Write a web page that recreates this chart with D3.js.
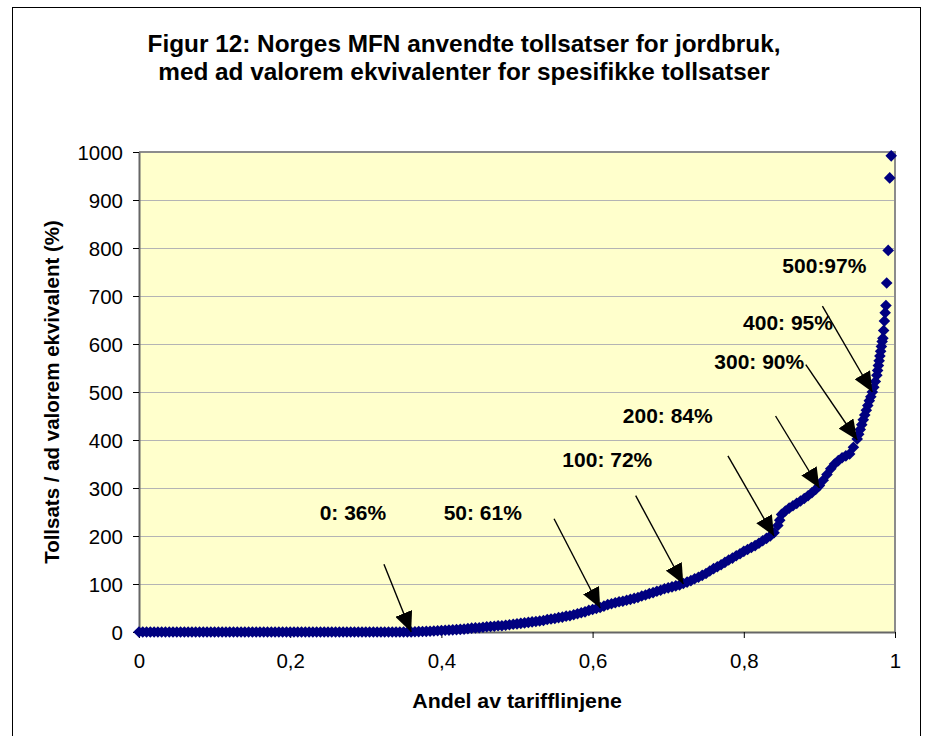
<!DOCTYPE html>
<html>
<head>
<meta charset="utf-8">
<script src="https://cdn.jsdelivr.net/npm/d3@7"></script>
<style>
  body { margin: 0; background: #fff; }
  text { font-family: Arial, "Liberation Sans", sans-serif; }
</style>
</head>
<body>
<svg id="chart"></svg>
<script>
// Andel av tarifflinjene (x) og tollsats / AVE i prosent (y), lest av figuren
const andel = [
  0, 0.005, 0.01, 0.015, 0.02, 0.025, 0.03, 0.035, 0.04, 0.045, 0.05, 0.055, 0.06, 0.065, 0.07, 0.075,
  0.08, 0.085, 0.09, 0.095, 0.1, 0.105, 0.11, 0.115, 0.12, 0.125, 0.13, 0.135, 0.14, 0.145, 0.15, 0.155,
  0.16, 0.165, 0.17, 0.175, 0.18, 0.185, 0.19, 0.195, 0.2, 0.205, 0.21, 0.215, 0.22, 0.225, 0.23, 0.235,
  0.24, 0.245, 0.25, 0.255, 0.26, 0.265, 0.27, 0.275, 0.28, 0.285, 0.29, 0.295, 0.3, 0.305, 0.31, 0.315,
  0.32, 0.325, 0.33, 0.335, 0.34, 0.345, 0.35, 0.355, 0.36,
  0.365, 0.37, 0.375, 0.38, 0.385, 0.39, 0.395, 0.4, 0.405, 0.41, 0.415, 0.42, 0.425, 0.43, 0.435, 0.44,
  0.445, 0.45, 0.455, 0.46, 0.465, 0.47, 0.475, 0.48, 0.485, 0.49, 0.495, 0.5, 0.505, 0.51, 0.515, 0.52,
  0.525, 0.53, 0.535, 0.54, 0.545, 0.55, 0.555, 0.56, 0.565, 0.57, 0.575, 0.58, 0.585, 0.59, 0.595, 0.6,
  0.605, 0.61, 0.615, 0.62, 0.625, 0.63, 0.635, 0.64, 0.645, 0.65, 0.655, 0.66, 0.665, 0.67, 0.675, 0.68,
  0.685, 0.69, 0.695, 0.7, 0.705, 0.71, 0.715, 0.72, 0.725, 0.73, 0.735, 0.74, 0.745, 0.75, 0.755, 0.76,
  0.765, 0.77, 0.775, 0.78, 0.785, 0.79, 0.795, 0.8, 0.805, 0.81, 0.815, 0.82, 0.825, 0.83, 0.835, 0.84,
  0.845, 0.8475, 0.85, 0.855, 0.86, 0.865, 0.87, 0.875, 0.88, 0.885, 0.89, 0.895, 0.9, 0.905, 0.91, 0.915,
  0.92, 0.925, 0.93, 0.935, 0.94, 0.945, 0.95,
  0.952, 0.954, 0.956, 0.958, 0.96, 0.962, 0.964, 0.966, 0.968, 0.97, 0.972, 0.974, 0.976, 0.977, 0.978,
  0.979, 0.98, 0.981, 0.982, 0.983, 0.984,
  0.985, 0.986, 0.987, 0.988, 0.989, 0.991, 0.993, 0.995
];
const tollsats = [
  0, 0, 0, 0, 0, 0, 0, 0, 0, 0, 0, 0, 0, 0, 0, 0,
  0, 0, 0, 0, 0, 0, 0, 0, 0, 0, 0, 0, 0, 0, 0, 0,
  0, 0, 0, 0, 0, 0, 0, 0, 0, 0, 0, 0, 0, 0, 0, 0,
  0, 0, 0, 0, 0, 0, 0, 0, 0, 0, 0, 0, 0, 0, 0, 0,
  0, 0, 0, 0, 0, 0, 0, 0, 0,
  0.5, 0.8, 1, 1.2, 1.5, 2, 2.5, 3, 3.5, 4, 4.5, 5, 5.5, 6, 7, 8,
  8.5, 9, 10, 11, 11.5, 12, 13, 13, 14, 15, 16, 17, 18, 19, 20, 21,
  22, 23, 24, 26, 27, 28, 30, 31, 33, 34, 36, 38, 40, 42, 45, 47,
  49, 51, 54, 57, 59, 61, 63, 64, 66, 68, 70, 72, 75, 77, 80, 82,
  85, 87, 90, 92, 94, 96, 98, 101, 104, 107, 111, 114, 118, 122, 127, 132,
  136, 140, 145, 150, 154, 159, 163, 168, 172, 176, 180, 185, 190, 195, 200, 207,
  222, 233, 245, 252, 258, 263, 268, 273, 278, 284, 290, 297, 305, 316, 328, 340,
  350, 357, 363, 367, 371, 385, 402,
  412, 422, 432, 442, 452, 462, 472, 482, 490, 500, 510, 522, 535, 545, 555,
  565, 575, 585, 595, 605, 612,
  628, 648, 665, 680, 727, 795, 946, 992
];

// Piler med tekst: spiss (andel, tollsats), startpunkt og tekstposisjon i dataverdier
const annLabels = ["0: 36%", "50: 61%", "100: 72%", "200: 84%", "300: 90%", "400: 95%", "500:97%"];
const annTipX   = [0.36, 0.61, 0.72, 0.84, 0.90, 0.95, 0.97];
const annTipY   = [0, 50, 100, 200, 300, 400, 500];
const annFromX  = [0.324, 0.549, 0.657, 0.779, 0.842, 0.882, 0.904];
const annFromY  = [141, 236, 284, 367, 450, 557, 679];
const annTextX  = [0.239, 0.403, 0.560, 0.640, 0.761, 0.799, 0.851];
const annTextY  = [233, 233, 344, 435, 548, 629, 748];

const xTicks = [0, 0.2, 0.4, 0.6, 0.8, 1];
const xTickLabels = ["0", "0,2", "0,4", "0,6", "0,8", "1"];
const yTicks = [0, 100, 200, 300, 400, 500, 600, 700, 800, 900, 1000];

const titleLines = [
  "Figur 12: Norges MFN anvendte tollsatser for jordbruk,",
  "med ad valorem ekvivalenter for spesifikke tollsatser"
];
const xTitle = "Andel av tarifflinjene";
const yTitle = "Tollsats / ad valorem ekvivalent (%)";

const width = 926, height = 736;
const plot = { left: 139, right: 895, top: 152, bottom: 632 };
const sx = 1.05; // tekst er litt bred i originalen

const svg = d3.select("#chart").attr("width", width).attr("height", height);

// ramme rundt hele figuren
svg.append("rect")
  .attr("x", 12.5).attr("y", 7.5)
  .attr("width", 908).attr("height", 760)
  .attr("fill", "#fff").attr("stroke", "#000").attr("stroke-width", 1);

const x = d3.scaleLinear().domain([0, 1]).range([plot.left, plot.right]);
const y = d3.scaleLinear().domain([0, 1000]).range([plot.bottom, plot.top]);

// bakgrunn
svg.append("rect")
  .attr("x", plot.left).attr("y", plot.top)
  .attr("width", plot.right - plot.left).attr("height", plot.bottom - plot.top)
  .attr("fill", "#ffffcc");

// rutenett
svg.append("g")
  .selectAll("line")
  .data(yTicks.filter((d) => d > 0 && d < 1000))
  .enter()
  .append("line")
  .attr("x1", plot.left).attr("x2", plot.right)
  .attr("y1", (d) => y(d) + 0.5).attr("y2", (d) => y(d) + 0.5)
  .attr("stroke", "#b4b4b4").attr("stroke-width", 1);

// ytre kant av plottområdet (topp og høyre)
svg.append("path")
  .attr("d", `M${plot.left},${plot.top} H${plot.right} V${plot.bottom}`)
  .attr("fill", "none").attr("stroke", "#8c8c8c").attr("stroke-width", 2);

// akser
const xAxis = d3.axisBottom(x).tickValues(xTicks).tickSize(6).tickSizeOuter(0)
  .tickFormat((d, i) => xTickLabels[i]);
const yAxis = d3.axisLeft(y).tickValues(yTicks).tickSize(6).tickSizeOuter(0)
  .tickFormat((d) => String(d));

const gx = svg.append("g")
  .attr("transform", `translate(0, ${plot.bottom})`)
  .call(xAxis);
const gy = svg.append("g")
  .attr("transform", `translate(${plot.left}, 0)`)
  .call(yAxis);

[gx, gy].forEach((g) => {
  g.select(".domain").attr("stroke", "#666").attr("stroke-width", 2);
  g.selectAll(".tick line").attr("stroke", "#000").attr("stroke-width", 1);
  g.selectAll(".tick text").attr("font-size", 19.5).attr("fill", "#000")
    .attr("font-family", "Arial, 'Liberation Sans', sans-serif");
});
gx.selectAll(".tick text").attr("dy", 0).attr("y", 0)
  .attr("transform", `translate(0, 36) scale(${sx}, 1)`);
gy.selectAll(".tick text").attr("x", 0).attr("dy", "0.36em")
  .attr("transform", `translate(-16, 0) scale(${sx}, 1)`);

// punkter (ruter)
const points = andel.map((a, i) => [a, tollsats[i]]);
svg.append("g")
  .selectAll("path")
  .data(points)
  .enter()
  .append("path")
  .attr("transform", (d) => `translate(${x(d[0])}, ${y(d[1])})`)
  .attr("d", "M0,-5.8 L5.8,0 L0,5.8 L-5.8,0 Z")
  .attr("fill", "#000080");

// piler
const defs = svg.append("defs");
defs.append("marker")
  .attr("id", "arrow")
  .attr("markerUnits", "userSpaceOnUse")
  .attr("viewBox", "0 -9 20 18")
  .attr("refX", 20).attr("refY", 0)
  .attr("markerWidth", 20).attr("markerHeight", 18)
  .attr("orient", "auto")
  .append("path")
  .attr("d", "M0,-9 L20,0 L0,9 Z")
  .attr("fill", "#000");

const ann = svg.append("g");
annLabels.forEach((lab, i) => {
  ann.append("line")
    .attr("x1", x(annFromX[i])).attr("y1", y(annFromY[i]))
    .attr("x2", x(annTipX[i])).attr("y2", y(annTipY[i]))
    .attr("stroke", "#000").attr("stroke-width", 1.4)
    .attr("marker-end", "url(#arrow)");
  ann.append("text")
    .attr("transform", `translate(${x(annTextX[i])}, ${y(annTextY[i])}) scale(${sx}, 1)`)
    .attr("font-size", 20).attr("font-weight", "bold")
    .text(lab);
});

// titler
svg.append("g")
  .selectAll("text")
  .data(titleLines)
  .enter()
  .append("text")
  .attr("transform", (d, i) => `translate(464, ${52 + i * 28}) scale(${sx}, 1)`)
  .attr("text-anchor", "middle")
  .attr("font-size", 23.2).attr("font-weight", "bold")
  .text((d) => d);

svg.append("text")
  .attr("transform", `translate(517, 708) scale(${sx}, 1)`)
  .attr("text-anchor", "middle")
  .attr("font-size", 20.3).attr("font-weight", "bold")
  .text(xTitle);

svg.append("text")
  .attr("transform", "translate(59, 392) rotate(-90)")
  .attr("text-anchor", "middle")
  .attr("font-size", 20.5).attr("font-weight", "bold")
  .text(yTitle);
</script>
</body>
</html>
